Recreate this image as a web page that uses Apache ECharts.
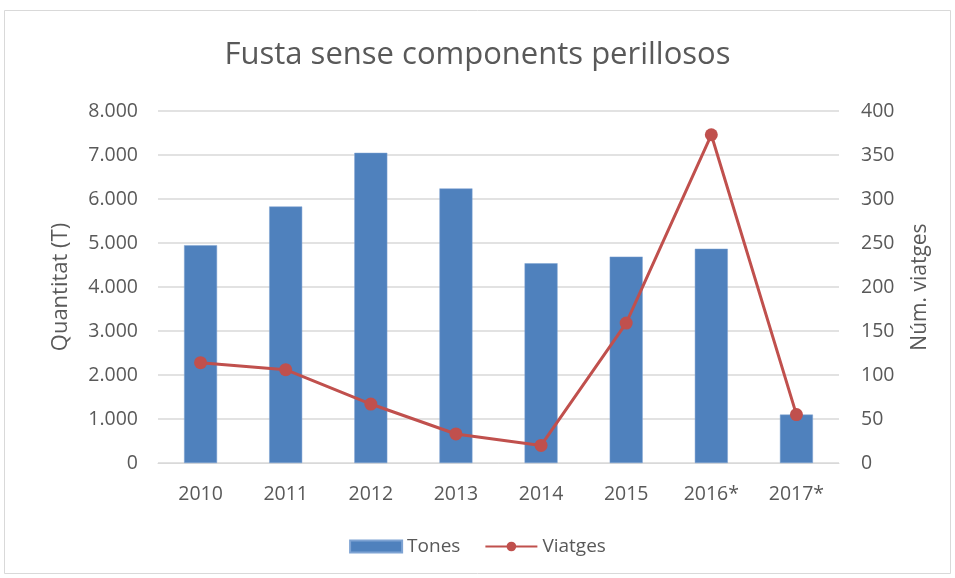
<!DOCTYPE html>
<html>
<head>
<meta charset="utf-8">
<script src="https://cdn.jsdelivr.net/npm/echarts@6/dist/echarts.min.js"></script>
<style>
  html, body { margin: 0; padding: 0; background: #fff; }
  #chart { width: 955px; height: 578px; }
</style>
</head>
<body>
<div id="chart"></div>
<script>
// Yearly timber shipments without hazardous components
const years = ['2010', '2011', '2012', '2013', '2014', '2015', '2016*', '2017*'];
const tones = [4950, 5830, 7050, 6240, 4540, 4690, 4870, 1100];
const viatges = [114, 106, 67, 33, 20, 159, 373, 55];
const leftTicks = { min: 0, max: 8000, interval: 1000 };
const rightTicks = { min: 0, max: 400, interval: 50 };

const textColor = '#595959';
const font = '"Open Sans", "Noto Sans", sans-serif';

const chart = echarts.init(document.getElementById('chart'), null, { renderer: 'canvas' });

const fmtThousands = v => {
  const s = String(Math.round(v));
  return s.replace(/\B(?=(\d{3})+(?!\d))/g, '.');
};

chart.setOption({
  backgroundColor: '#ffffff',
  animation: false,
  graphic: [{
    type: 'rect',
    shape: { x: 4.5, y: 10.5, width: 946, height: 563 },
    style: { fill: 'none', stroke: '#d9d9d9', lineWidth: 1 },
    silent: true
  }],
  title: {
    text: 'Fusta sense components perillosos',
    left: 'center',
    top: 35,
    textStyle: { color: textColor, fontFamily: font, fontSize: 31, fontWeight: 'normal' }
  },
  legend: {
    bottom: 17,
    left: 'center',
    itemGap: 24,
    textStyle: { color: textColor, fontFamily: font, fontSize: 19 },
    data: [
      { name: 'Tones', icon: 'rect', itemStyle: { color: '#4F81BD' } },
      { name: 'Viatges' }
    ],
    itemWidth: 52,
    itemHeight: 12
  },
  grid: { left: 158, right: 116, top: 111, bottom: 115 },
  xAxis: {
    type: 'category',
    data: years,
    axisLine: { lineStyle: { color: '#d9d9d9', width: 1 } },
    axisTick: { show: false },
    axisLabel: { color: textColor, fontFamily: font, fontSize: 19.5, margin: 21 }
  },
  yAxis: [
    {
      type: 'value',
      min: leftTicks.min, max: leftTicks.max, interval: leftTicks.interval,
      name: 'Quantitat (T)',
      nameLocation: 'middle',
      nameGap: 86,
      nameTextStyle: { color: textColor, fontFamily: font, fontSize: 22 },
      axisLine: { show: false },
      axisTick: { show: false },
      axisLabel: { color: textColor, fontFamily: font, fontSize: 19.5, margin: 20, formatter: fmtThousands },
      splitLine: { lineStyle: { color: '#d9d9d9', width: 1.5 } }
    },
    {
      type: 'value',
      min: rightTicks.min, max: rightTicks.max, interval: rightTicks.interval,
      name: 'Núm. viatges',
      nameLocation: 'middle',
      nameGap: 71,
      nameTextStyle: { color: textColor, fontFamily: font, fontSize: 21 },
      axisLine: { show: false },
      axisTick: { show: false },
      axisLabel: { color: textColor, fontFamily: font, fontSize: 19.5, margin: 22 },
      splitLine: { show: false }
    }
  ],
  series: [
    {
      name: 'Tones',
      type: 'bar',
      yAxisIndex: 0,
      data: tones,
      barWidth: 33,
      itemStyle: { color: '#4F81BD', borderColor: '#7ea3d3', borderWidth: 0.5 }
    },
    {
      name: 'Viatges',
      type: 'line',
      yAxisIndex: 1,
      data: viatges,
      symbol: 'circle',
      symbolSize: 13,
      lineStyle: { color: '#C0504D', width: 3 },
      itemStyle: { color: '#C0504D' }
    }
  ]
});
</script>
</body>
</html>
